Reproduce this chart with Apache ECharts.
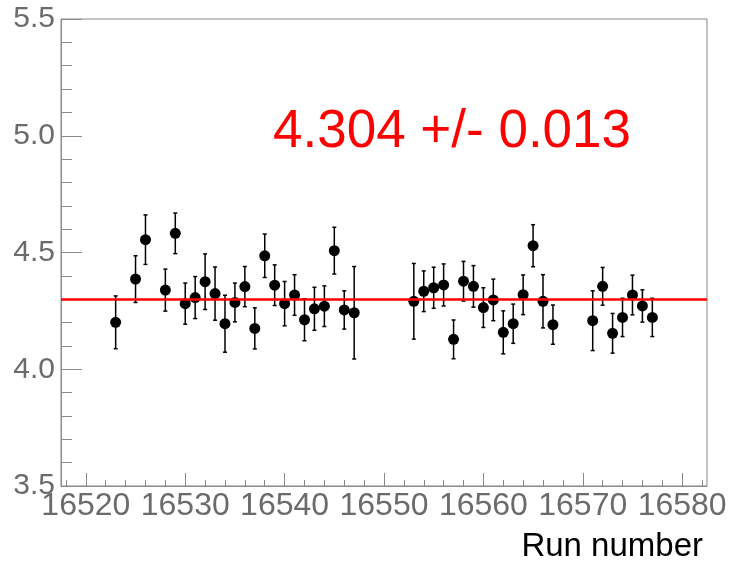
<!DOCTYPE html>
<html>
<head>
<meta charset="utf-8">
<script src="https://cdn.jsdelivr.net/npm/echarts@6/dist/echarts.min.js"></script>
<style>
  html, body { margin: 0; padding: 0; background: #fff; }
  #chart { width: 731px; height: 564px; }
</style>
</head>
<body>
<div id="chart"></div>
<script>
// run numbers, measured values and their errors
var runs = [16523, 16525, 16526, 16528, 16529, 16530, 16531, 16532, 16533, 16534, 16535,
            16536, 16537, 16538, 16539, 16540, 16541, 16542, 16543, 16544, 16545, 16546, 16547,
            16553, 16554, 16555, 16556, 16557, 16558, 16559, 16560, 16561, 16562, 16563, 16564,
            16565, 16566, 16567, 16571, 16572, 16573, 16574, 16575, 16576, 16577];
var values = [4.201, 4.386, 4.555, 4.339, 4.582, 4.281, 4.307, 4.375, 4.324, 4.195, 4.286,
              4.354, 4.175, 4.486, 4.360, 4.281, 4.318, 4.212, 4.259, 4.270, 4.508, 4.254, 4.242,
              4.291, 4.334, 4.349, 4.361, 4.128, 4.377, 4.355, 4.264, 4.297, 4.158, 4.195, 4.319,
              4.529, 4.291, 4.191, 4.208, 4.355, 4.154, 4.222, 4.318, 4.271, 4.222];
var errors = [0.113, 0.100, 0.106, 0.090, 0.087, 0.088, 0.090, 0.119, 0.114, 0.122, 0.083,
              0.086, 0.088, 0.093, 0.087, 0.095, 0.087, 0.090, 0.092, 0.087, 0.100, 0.082, 0.198,
              0.162, 0.087, 0.088, 0.090, 0.083, 0.085, 0.089, 0.085, 0.089, 0.092, 0.084, 0.085,
              0.090, 0.114, 0.084, 0.128, 0.081, 0.085, 0.082, 0.085, 0.069, 0.082];

var fitValue = 4.304;
var fitError = 0.013;

var xMajorTicks = [16520, 16530, 16540, 16550, 16560, 16570, 16580];
var xMinorTicks = [];
for (var t = 16518; t <= 16582; t += 2) xMinorTicks.push(t);

var axisGray = '#8a8a8a';
var labelGray = '#6b6b6b';
var font = 'Liberation Sans, Arial, Helvetica, sans-serif';

var points = [];
var bars = [];
for (var i = 0; i < runs.length; i++) {
    points.push([runs[i], values[i]]);
    bars.push([runs[i], values[i] - errors[i], values[i] + errors[i]]);
}

var myChart = echarts.init(document.getElementById('chart'), null, {renderer: 'canvas'});

var option = {
    backgroundColor: '#fff',
    animation: false,
    grid: {
        left: 61, top: 19, right: 24, bottom: 78,
        show: true, borderColor: axisGray, borderWidth: 1, backgroundColor: 'transparent'
    },
    xAxis: [
        {
            type: 'value', min: 16517.5, max: 16582.5,
            axisLine: {show: true, onZero: false, lineStyle: {color: axisGray, width: 1}},
            axisTick: {show: true, inside: true, length: 13, customValues: xMajorTicks,
                       lineStyle: {color: axisGray, width: 1}},
            axisLabel: {show: true, customValues: xMajorTicks, margin: 4,
                        color: labelGray, fontSize: 32, fontFamily: font,
                        showMinLabel: true, showMaxLabel: true,
                        formatter: function (v) { return String(v); }},
            splitLine: {show: false}
        },
        {
            type: 'value', min: 16517.5, max: 16582.5, position: 'bottom',
            axisLine: {show: false, onZero: false},
            axisTick: {show: true, inside: true, length: 6, customValues: xMinorTicks,
                       lineStyle: {color: axisGray, width: 1}},
            axisLabel: {show: false},
            splitLine: {show: false}
        }
    ],
    yAxis: {
        type: 'value', min: 3.5, max: 5.5, interval: 0.5,
        axisLine: {show: true, onZero: false, lineStyle: {color: axisGray, width: 1}},
        axisTick: {show: true, inside: true, length: 21, lineStyle: {color: axisGray, width: 1}},
        minorTick: {show: true, splitNumber: 5, length: 11, lineStyle: {color: axisGray, width: 1}},
        axisLabel: {margin: 6, color: labelGray, fontSize: 30, fontFamily: font,
                    formatter: function (v) { return v.toFixed(1); }},
        splitLine: {show: false}
    },
    series: [
        {
            name: 'errors',
            type: 'custom',
            xAxisIndex: 0,
            data: bars,
            renderItem: function (params, api) {
                var x = api.value(0);
                var lo = api.coord([x, api.value(1)]);
                var hi = api.coord([x, api.value(2)]);
                var cap = 2;
                var st = {stroke: '#000', lineWidth: 1.5};
                return {
                    type: 'group',
                    children: [
                        {type: 'line', shape: {x1: lo[0], y1: lo[1], x2: hi[0], y2: hi[1]}, style: st},
                        {type: 'line', shape: {x1: lo[0] - cap, y1: lo[1], x2: lo[0] + cap, y2: lo[1]}, style: st},
                        {type: 'line', shape: {x1: hi[0] - cap, y1: hi[1], x2: hi[0] + cap, y2: hi[1]}, style: st}
                    ]
                };
            },
            z: 3
        },
        {
            name: 'fit',
            type: 'line',
            data: [],
            markLine: {
                silent: true,
                symbol: ['none', 'none'],
                label: {show: false},
                lineStyle: {color: '#ff0000', width: 2.5, type: 'solid'},
                data: [{yAxis: fitValue}]
            },
            z: 2
        },
        {
            name: 'points',
            type: 'scatter',
            data: points,
            symbol: 'circle',
            symbolSize: 11,
            itemStyle: {color: '#000', opacity: 1},
            z: 4
        }
    ],
    graphic: [
        {
            type: 'text', left: 273, top: 106,
            style: {text: fitValue.toFixed(3) + ' +/- ' + fitError.toFixed(3),
                    fill: '#ff0000', font: '53px ' + font}
        },
        {
            type: 'text', right: 28, top: 530,
            style: {text: 'Run number', fill: '#000', font: '33px ' + font}
        }
    ]
};

myChart.setOption(option);
</script>
</body>
</html>
